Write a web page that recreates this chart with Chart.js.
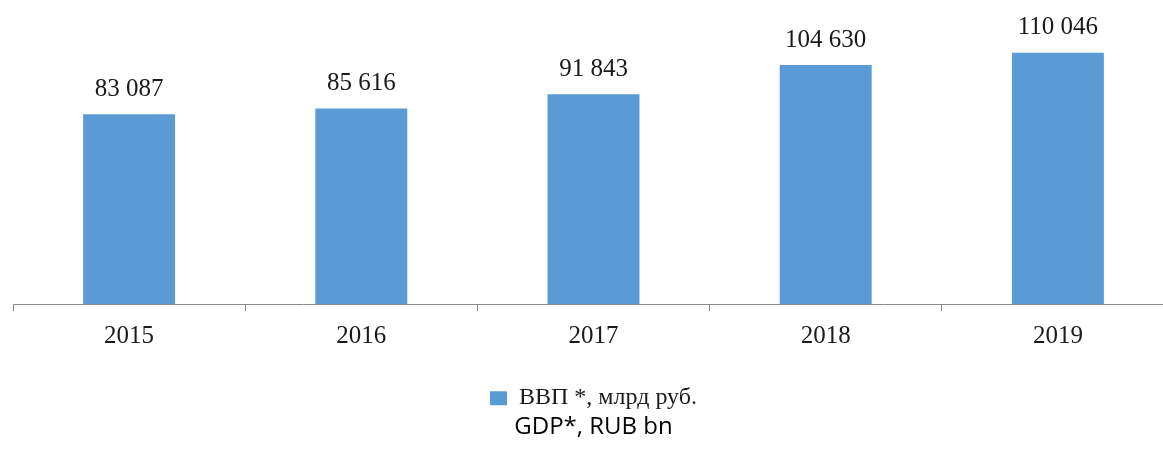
<!DOCTYPE html>
<html>
<head>
<meta charset="utf-8">
<script src="https://cdn.jsdelivr.net/npm/chart.js@4/dist/chart.umd.min.js"></script>
<style>
  html, body { margin: 0; padding: 0; background: #ffffff; overflow: hidden; }
  #wrap { width: 1188px; height: 456px; }
</style>
</head>
<body>
<div id="wrap"><canvas id="gdp" width="1188" height="456"></canvas></div>
<script>
// GDP of Russia, billion roubles
const years = ['2015', '2016', '2017', '2018', '2019'];
const gdpValues = [83087, 85616, 91843, 104630, 110046];
const seriesLabel = 'ВВП *, млрд руб.';
const captionText = 'GDP*, RUB bn';

const barColor = '#5B9BD5';
const axisColor = '#898989';
const serif = '"Liberation Serif", "DejaVu Serif", serif';

// thousands separated by a space: 83 087
function formatValue(v) {
  return String(v).replace(/\B(?=(\d{3})+(?!\d))/g, ' ');
}

// value labels written above each bar
const valueLabels = {
  id: 'valueLabels',
  afterDatasetsDraw(chart) {
    const ctx = chart.ctx;
    const meta = chart.getDatasetMeta(0);
    const data = chart.data.datasets[0].data;
    ctx.save();
    ctx.font = '25px ' + serif;
    ctx.fillStyle = '#1a1a1a';
    ctx.textAlign = 'center';
    ctx.textBaseline = 'middle';
    meta.data.forEach((bar, i) => {
      ctx.fillText(formatValue(data[i]), bar.x, bar.y - 25);
    });
    ctx.restore();
  }
};

new Chart(document.getElementById('gdp'), {
  type: 'bar',
  data: {
    labels: years,
    datasets: [{
      label: seriesLabel,
      data: gdpValues,
      backgroundColor: barColor,
      borderWidth: 0,
      categoryPercentage: 1.0,
      barPercentage: 0.396
    }]
  },
  options: {
    responsive: false,
    animation: false,
    devicePixelRatio: 1,
    layout: { padding: { top: 30, left: 13, right: 14, bottom: 0 } },
    scales: {
      x: {
        offset: true,
        grid: {
          offset: true,
          drawOnChartArea: false,
          drawTicks: true,
          tickLength: 7,
          color: axisColor,
          lineWidth: 1
        },
        border: { display: true, color: axisColor, width: 1 },
        ticks: {
          color: '#1a1a1a',
          font: { family: serif, size: 25 },
          padding: 10,
          maxRotation: 0,
          autoSkip: false
        },
        afterFit(scale) { scale.height = 78; }
      },
      y: {
        display: false,
        min: 0,
        max: 120000
      }
    },
    plugins: {
      legend: {
        display: true,
        position: 'bottom',
        labels: {
          boxWidth: 17,
          boxHeight: 14,
          padding: 4,
          color: '#1a1a1a',
          font: { family: serif, size: 24 }
        }
      },
      title: {
        display: true,
        position: 'bottom',
        text: captionText,
        color: '#000000',
        font: { family: '"Open Sans", "Noto Sans", sans-serif', size: 24, weight: 'normal' },
        padding: { top: -7, bottom: 14 }
      },
      tooltip: { enabled: false }
    }
  },
  plugins: [valueLabels]
});
</script>
</body>
</html>
